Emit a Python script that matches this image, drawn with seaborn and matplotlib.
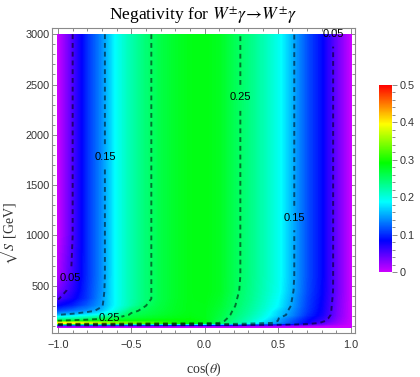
import numpy as np
import matplotlib
matplotlib.use("Agg")
import matplotlib.pyplot as plt
import seaborn as sns
from matplotlib.colors import ListedColormap, Normalize, hsv_to_rgb
from matplotlib.cm import ScalarMappable
from matplotlib.ticker import MultipleLocator

# ---- data ----
cos_theta = [-1.0, -0.9, -0.8, -0.7, -0.6, -0.5, -0.4, -0.3, -0.2, -0.1, 0.0,
             0.1, 0.2, 0.3, 0.4, 0.5, 0.6, 0.7, 0.8, 0.9, 1.0]
sqrt_s = [90, 105, 118, 130, 150, 175, 210, 250, 300, 370, 450, 600, 1000, 3000]

neg_s90 = [0.0] * 21
neg_s105 = [0.03, 0.03, 0.03, 0.03, 0.028, 0.027, 0.026, 0.025, 0.024, 0.023, 0.022,
            0.021, 0.02, 0.019, 0.018, 0.016, 0.014, 0.012, 0.01, 0.005, 0.0]
neg_s118 = [0.2, 0.2, 0.19, 0.185, 0.18, 0.175, 0.17, 0.165, 0.16, 0.155, 0.15,
            0.14, 0.125, 0.11, 0.095, 0.08, 0.065, 0.05, 0.035, 0.015, 0.0]
neg_s130 = [0.40, 0.39, 0.375, 0.36, 0.345, 0.33, 0.32, 0.31, 0.30, 0.29, 0.275,
            0.25, 0.225, 0.195, 0.165, 0.14, 0.11, 0.078, 0.045, 0.02, 0.0]
neg_s150 = [0.255, 0.265, 0.272, 0.278, 0.282, 0.286, 0.29, 0.292, 0.293, 0.292, 0.285,
            0.258, 0.236, 0.21, 0.18, 0.15, 0.115, 0.085, 0.058, 0.025, 0.0]
neg_s175 = [0.205, 0.215, 0.228, 0.245, 0.256, 0.268, 0.275, 0.28, 0.284, 0.287, 0.283,
            0.262, 0.24, 0.218, 0.19, 0.152, 0.122, 0.09, 0.066, 0.03, 0.0]
neg_s210 = [0.15, 0.16, 0.175, 0.19, 0.222, 0.256, 0.264, 0.272, 0.279, 0.284, 0.282,
            0.266, 0.245, 0.224, 0.198, 0.168, 0.136, 0.1, 0.075, 0.034, 0.0]
neg_s250 = [0.11, 0.125, 0.14, 0.16, 0.2, 0.243, 0.258, 0.268, 0.277, 0.283, 0.282,
            0.268, 0.248, 0.228, 0.204, 0.172, 0.14, 0.105, 0.078, 0.035, 0.0]
neg_s300 = [0.08, 0.095, 0.12, 0.148, 0.19, 0.222, 0.25, 0.265, 0.276, 0.283, 0.283,
            0.272, 0.252, 0.232, 0.209, 0.184, 0.146, 0.108, 0.08, 0.036, 0.0]
neg_s370 = [0.048, 0.075, 0.105, 0.145, 0.19, 0.22, 0.243, 0.262, 0.275, 0.283, 0.284,
            0.275, 0.254, 0.236, 0.213, 0.188, 0.149, 0.11, 0.082, 0.038, 0.0]
neg_s450 = [0.03, 0.065, 0.103, 0.142, 0.19, 0.22, 0.243, 0.262, 0.275, 0.283, 0.285,
            0.278, 0.257, 0.238, 0.216, 0.193, 0.153, 0.113, 0.084, 0.04, 0.0]
neg_s600 = [0.01, 0.055, 0.10, 0.14, 0.19, 0.22, 0.243, 0.262, 0.275, 0.283, 0.285,
            0.278, 0.258, 0.24, 0.218, 0.195, 0.155, 0.115, 0.085, 0.04, 0.0]
neg_s1000 = [0.0, 0.05, 0.10, 0.14, 0.19, 0.22, 0.243, 0.262, 0.275, 0.283, 0.285,
             0.278, 0.258, 0.24, 0.218, 0.195, 0.155, 0.115, 0.085, 0.04, 0.0]
neg_s3000 = [0.0, 0.05, 0.10, 0.14, 0.19, 0.22, 0.243, 0.262, 0.275, 0.283, 0.285,
             0.278, 0.258, 0.24, 0.218, 0.195, 0.155, 0.115, 0.085, 0.04, 0.0]

negativity = [neg_s90, neg_s105, neg_s118, neg_s130, neg_s150, neg_s175, neg_s210,
              neg_s250, neg_s300, neg_s370, neg_s450, neg_s600, neg_s1000, neg_s3000]

contour_levels = [0.05, 0.15, 0.25]
label_cos = [0.877, 0.236, -0.686, 0.61, -0.9, -0.65]
label_s = [2998, 2375, 1777, 1173, 566, 168]

x_ticks = [-1.0, -0.5, 0.0, 0.5, 1.0]
x_tick_labels = ["\u22121.0", "\u22120.5", "0.0", "0.5", "1.0"]
y_ticks = [500, 1000, 1500, 2000, 2500, 3000]
cbar_ticks = [0, 0.1, 0.2, 0.3, 0.4, 0.5]
cbar_tick_labels = ["0", "0.1", "0.2", "0.3", "0.4", "0.5"]

# ---- style ----
sns.set_theme(style="ticks")
plt.rcParams["font.family"] = ["Liberation Sans", "DejaVu Sans"]
plt.rcParams["mathtext.fontset"] = "stix"

frame_col = "#8a8a8a"
text_col = "#333333"

fig = plt.figure(figsize=(4.2, 3.77), dpi=100)
fig.patch.set_facecolor("white")
ax = fig.add_axes([52 / 420, 1 - 333 / 377, 303 / 420, 305 / 377])
cax = fig.add_axes([379 / 420, 1 - 272 / 377, 13 / 420, 187 / 377])

hues = np.linspace(0.8, 0.0, 512)
cmap = ListedColormap(hsv_to_rgb(np.stack([hues, np.ones_like(hues), np.ones_like(hues)], axis=1)))
norm = Normalize(vmin=0, vmax=0.5)

X, Y = np.meshgrid(cos_theta, sqrt_s)
Z = np.array(negativity)

cf = ax.contourf(X, Y, Z, levels=np.linspace(0, 0.5, 301), cmap=cmap, norm=norm)
cf.set_edgecolor("face")
cf.set_linewidth(0.3)

cs = ax.contour(X, Y, Z, levels=contour_levels, colors=[(0, 0, 0, 0.55)],
                linewidths=1.4, linestyles=[(0, (2.5, 2))])
ax.clabel(cs, fmt="%.2f", fontsize=8, inline=True, inline_spacing=2, rightside_up=True,
          manual=list(zip(label_cos, label_s)), colors="black")
for t in cs.labelTexts:
    t.set_rotation(0)

ax.set_xlim(-1.041, 1.027)
ax.set_ylim(30, 3062)
ax.set_xticks(x_ticks)
ax.set_xticklabels(x_tick_labels)
ax.set_yticks(y_ticks)
ax.xaxis.set_minor_locator(MultipleLocator(0.1))
ax.yaxis.set_minor_locator(MultipleLocator(100))
ax.tick_params(which="both", direction="in", top=True, right=True,
               labeltop=False, labelright=False, color=frame_col, width=0.7,
               labelsize=7.8, labelcolor=text_col)
ax.tick_params(which="major", length=4.5)
ax.tick_params(which="minor", length=2.5)
ax.tick_params(axis="x", pad=5)
ax.tick_params(axis="y", pad=2)
for sp in ax.spines.values():
    sp.set_visible(True)
    sp.set_color(frame_col)
    sp.set_linewidth(0.8)

ax.set_title("Negativity for $W^{\\pm}\\gamma\\!\\rightarrow\\!W^{\\pm}\\gamma$",
             family="Liberation Serif", fontsize=12.6, color="black", pad=6)
ax.set_xlabel("cos($\\theta$)", family="Liberation Serif", fontsize=10, color=text_col)
ax.xaxis.set_label_coords(0.5, -0.092)
ax.set_ylabel("$\\sqrt{S}$ [GeV]", family="Liberation Serif", fontsize=10, color=text_col)
ax.yaxis.set_label_coords(-0.102, 0.325)

cb = fig.colorbar(ScalarMappable(norm=norm, cmap=cmap), cax=cax, ticks=cbar_ticks)
cb.outline.set_visible(False)
cb.ax.set_yticklabels(cbar_tick_labels)
cb.ax.yaxis.set_minor_locator(MultipleLocator(0.02))
cb.ax.tick_params(which="both", direction="out", right=True, color=frame_col,
                  width=0.7, labelsize=7.8, labelcolor=text_col, pad=2)
cb.ax.tick_params(which="major", length=3.5)
cb.ax.tick_params(which="minor", length=2)

fig.savefig("out.png", dpi=100, facecolor="white")
